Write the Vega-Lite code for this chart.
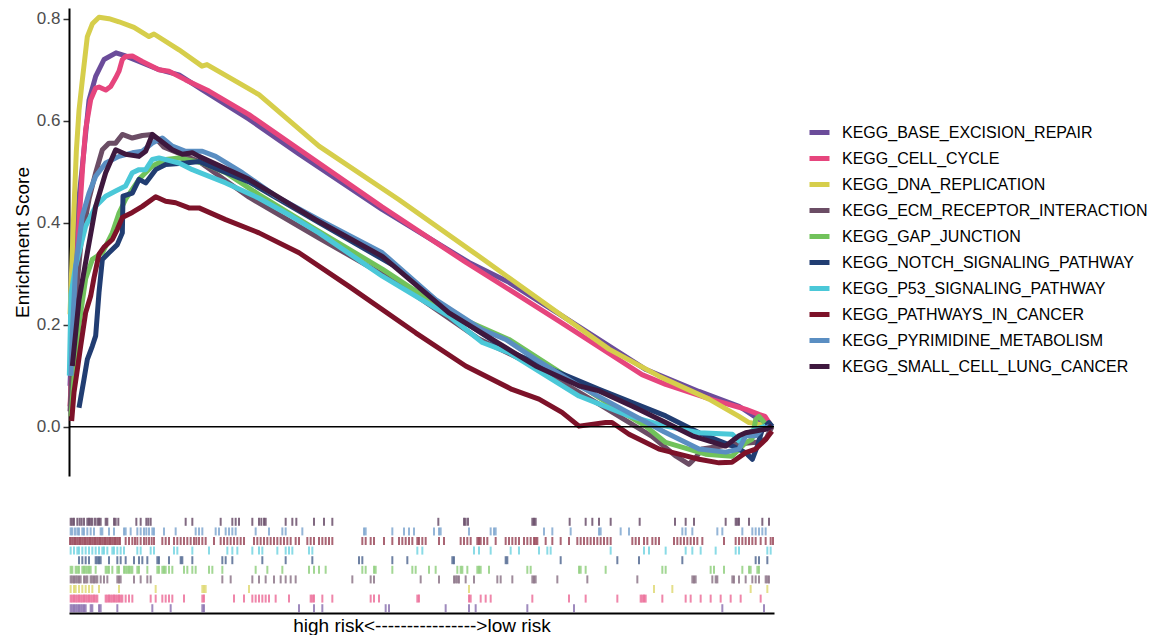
{
"$schema":"https://vega.github.io/schema/vega-lite/v6.json",
"background":"white",
"padding":{"left":13,"top":8,"right":0,"bottom":0},
"config":{"font":"Liberation Sans","view":{"stroke":null},"concat":{"spacing":41}},
"datasets":{
"curves":[
{"set":"KEGG_BASE_EXCISION_REPAIR","rank":3,"es":0.08},{"set":"KEGG_BASE_EXCISION_REPAIR","rank":15,"es":0.30},{"set":"KEGG_BASE_EXCISION_REPAIR","rank":30,"es":0.45},{"set":"KEGG_BASE_EXCISION_REPAIR","rank":40,"es":0.51},{"set":"KEGG_BASE_EXCISION_REPAIR","rank":60,"es":0.64},{"set":"KEGG_BASE_EXCISION_REPAIR","rank":80,"es":0.687},{"set":"KEGG_BASE_EXCISION_REPAIR","rank":105,"es":0.72},{"set":"KEGG_BASE_EXCISION_REPAIR","rank":141,"es":0.733},{"set":"KEGG_BASE_EXCISION_REPAIR","rank":165,"es":0.728},{"set":"KEGG_BASE_EXCISION_REPAIR","rank":210,"es":0.716},{"set":"KEGG_BASE_EXCISION_REPAIR","rank":270,"es":0.70},{"set":"KEGG_BASE_EXCISION_REPAIR","rank":330,"es":0.69},{"set":"KEGG_BASE_EXCISION_REPAIR","rank":399,"es":0.661},{"set":"KEGG_BASE_EXCISION_REPAIR","rank":540,"es":0.603},{"set":"KEGG_BASE_EXCISION_REPAIR","rank":690,"es":0.535},{"set":"KEGG_BASE_EXCISION_REPAIR","rank":939,"es":0.426},{"set":"KEGG_BASE_EXCISION_REPAIR","rank":1200,"es":0.322},{"set":"KEGG_BASE_EXCISION_REPAIR","rank":1320,"es":0.283},{"set":"KEGG_BASE_EXCISION_REPAIR","rank":1470,"es":0.221},{"set":"KEGG_BASE_EXCISION_REPAIR","rank":1731,"es":0.112},{"set":"KEGG_BASE_EXCISION_REPAIR","rank":1890,"es":0.069},{"set":"KEGG_BASE_EXCISION_REPAIR","rank":2010,"es":0.04},{"set":"KEGG_BASE_EXCISION_REPAIR","rank":2070,"es":0.014},{"set":"KEGG_BASE_EXCISION_REPAIR","rank":2094,"es":0.0},
{"set":"KEGG_CELL_CYCLE","rank":3,"es":0.04},{"set":"KEGG_CELL_CYCLE","rank":18,"es":0.25},{"set":"KEGG_CELL_CYCLE","rank":30,"es":0.40},{"set":"KEGG_CELL_CYCLE","rank":42,"es":0.52},{"set":"KEGG_CELL_CYCLE","rank":50,"es":0.583},{"set":"KEGG_CELL_CYCLE","rank":65,"es":0.641},{"set":"KEGG_CELL_CYCLE","rank":80,"es":0.664},{"set":"KEGG_CELL_CYCLE","rank":90,"es":0.666},{"set":"KEGG_CELL_CYCLE","rank":110,"es":0.66},{"set":"KEGG_CELL_CYCLE","rank":125,"es":0.667},{"set":"KEGG_CELL_CYCLE","rank":140,"es":0.684},{"set":"KEGG_CELL_CYCLE","rank":150,"es":0.697},{"set":"KEGG_CELL_CYCLE","rank":160,"es":0.72},{"set":"KEGG_CELL_CYCLE","rank":170,"es":0.726},{"set":"KEGG_CELL_CYCLE","rank":190,"es":0.727},{"set":"KEGG_CELL_CYCLE","rank":220,"es":0.716},{"set":"KEGG_CELL_CYCLE","rank":270,"es":0.70},{"set":"KEGG_CELL_CYCLE","rank":300,"es":0.697},{"set":"KEGG_CELL_CYCLE","rank":350,"es":0.68},{"set":"KEGG_CELL_CYCLE","rank":420,"es":0.658},{"set":"KEGG_CELL_CYCLE","rank":540,"es":0.612},{"set":"KEGG_CELL_CYCLE","rank":690,"es":0.544},{"set":"KEGG_CELL_CYCLE","rank":939,"es":0.431},{"set":"KEGG_CELL_CYCLE","rank":1191,"es":0.322},{"set":"KEGG_CELL_CYCLE","rank":1320,"es":0.269},{"set":"KEGG_CELL_CYCLE","rank":1470,"es":0.207},{"set":"KEGG_CELL_CYCLE","rank":1719,"es":0.102},{"set":"KEGG_CELL_CYCLE","rank":1790,"es":0.083},{"set":"KEGG_CELL_CYCLE","rank":1929,"es":0.053},{"set":"KEGG_CELL_CYCLE","rank":2010,"es":0.038},{"set":"KEGG_CELL_CYCLE","rank":2031,"es":0.034},{"set":"KEGG_CELL_CYCLE","rank":2070,"es":0.024},{"set":"KEGG_CELL_CYCLE","rank":2088,"es":0.02},{"set":"KEGG_CELL_CYCLE","rank":2103,"es":0.005},
{"set":"KEGG_DNA_REPLICATION","rank":3,"es":0.22},{"set":"KEGG_DNA_REPLICATION","rank":12,"es":0.38},{"set":"KEGG_DNA_REPLICATION","rank":22,"es":0.54},{"set":"KEGG_DNA_REPLICATION","rank":30,"es":0.62},{"set":"KEGG_DNA_REPLICATION","rank":40,"es":0.68},{"set":"KEGG_DNA_REPLICATION","rank":55,"es":0.765},{"set":"KEGG_DNA_REPLICATION","rank":70,"es":0.79},{"set":"KEGG_DNA_REPLICATION","rank":90,"es":0.803},{"set":"KEGG_DNA_REPLICATION","rank":120,"es":0.80},{"set":"KEGG_DNA_REPLICATION","rank":150,"es":0.794},{"set":"KEGG_DNA_REPLICATION","rank":195,"es":0.783},{"set":"KEGG_DNA_REPLICATION","rank":240,"es":0.765},{"set":"KEGG_DNA_REPLICATION","rank":255,"es":0.77},{"set":"KEGG_DNA_REPLICATION","rank":330,"es":0.739},{"set":"KEGG_DNA_REPLICATION","rank":399,"es":0.707},{"set":"KEGG_DNA_REPLICATION","rank":414,"es":0.71},{"set":"KEGG_DNA_REPLICATION","rank":570,"es":0.651},{"set":"KEGG_DNA_REPLICATION","rank":750,"es":0.55},{"set":"KEGG_DNA_REPLICATION","rank":990,"es":0.445},{"set":"KEGG_DNA_REPLICATION","rank":1230,"es":0.334},{"set":"KEGG_DNA_REPLICATION","rank":1470,"es":0.222},{"set":"KEGG_DNA_REPLICATION","rank":1620,"es":0.152},{"set":"KEGG_DNA_REPLICATION","rank":1770,"es":0.099},{"set":"KEGG_DNA_REPLICATION","rank":1920,"es":0.054},{"set":"KEGG_DNA_REPLICATION","rank":2010,"es":0.02},{"set":"KEGG_DNA_REPLICATION","rank":2040,"es":0.008},{"set":"KEGG_DNA_REPLICATION","rank":2076,"es":0.004},{"set":"KEGG_DNA_REPLICATION","rank":2094,"es":0.0},
{"set":"KEGG_ECM_RECEPTOR_INTERACTION","rank":3,"es":0.03},{"set":"KEGG_ECM_RECEPTOR_INTERACTION","rank":20,"es":0.25},{"set":"KEGG_ECM_RECEPTOR_INTERACTION","rank":36,"es":0.36},{"set":"KEGG_ECM_RECEPTOR_INTERACTION","rank":60,"es":0.446},{"set":"KEGG_ECM_RECEPTOR_INTERACTION","rank":80,"es":0.498},{"set":"KEGG_ECM_RECEPTOR_INTERACTION","rank":100,"es":0.543},{"set":"KEGG_ECM_RECEPTOR_INTERACTION","rank":120,"es":0.556},{"set":"KEGG_ECM_RECEPTOR_INTERACTION","rank":140,"es":0.556},{"set":"KEGG_ECM_RECEPTOR_INTERACTION","rank":160,"es":0.573},{"set":"KEGG_ECM_RECEPTOR_INTERACTION","rank":190,"es":0.566},{"set":"KEGG_ECM_RECEPTOR_INTERACTION","rank":220,"es":0.571},{"set":"KEGG_ECM_RECEPTOR_INTERACTION","rank":250,"es":0.573},{"set":"KEGG_ECM_RECEPTOR_INTERACTION","rank":285,"es":0.548},{"set":"KEGG_ECM_RECEPTOR_INTERACTION","rank":390,"es":0.52},{"set":"KEGG_ECM_RECEPTOR_INTERACTION","rank":540,"es":0.45},{"set":"KEGG_ECM_RECEPTOR_INTERACTION","rank":750,"es":0.37},{"set":"KEGG_ECM_RECEPTOR_INTERACTION","rank":990,"es":0.28},{"set":"KEGG_ECM_RECEPTOR_INTERACTION","rank":1230,"es":0.172},{"set":"KEGG_ECM_RECEPTOR_INTERACTION","rank":1400,"es":0.118},{"set":"KEGG_ECM_RECEPTOR_INTERACTION","rank":1590,"es":0.044},{"set":"KEGG_ECM_RECEPTOR_INTERACTION","rank":1749,"es":-0.019},{"set":"KEGG_ECM_RECEPTOR_INTERACTION","rank":1821,"es":-0.058},{"set":"KEGG_ECM_RECEPTOR_INTERACTION","rank":1860,"es":-0.074},{"set":"KEGG_ECM_RECEPTOR_INTERACTION","rank":1881,"es":-0.06},{"set":"KEGG_ECM_RECEPTOR_INTERACTION","rank":1899,"es":-0.044},{"set":"KEGG_ECM_RECEPTOR_INTERACTION","rank":1989,"es":-0.035},{"set":"KEGG_ECM_RECEPTOR_INTERACTION","rank":2070,"es":-0.03},{"set":"KEGG_ECM_RECEPTOR_INTERACTION","rank":2091,"es":-0.024},{"set":"KEGG_ECM_RECEPTOR_INTERACTION","rank":2109,"es":0.0},
{"set":"KEGG_GAP_JUNCTION","rank":6,"es":0.02},{"set":"KEGG_GAP_JUNCTION","rank":18,"es":0.12},{"set":"KEGG_GAP_JUNCTION","rank":30,"es":0.2},{"set":"KEGG_GAP_JUNCTION","rank":50,"es":0.29},{"set":"KEGG_GAP_JUNCTION","rank":70,"es":0.328},{"set":"KEGG_GAP_JUNCTION","rank":100,"es":0.341},{"set":"KEGG_GAP_JUNCTION","rank":130,"es":0.38},{"set":"KEGG_GAP_JUNCTION","rank":150,"es":0.419},{"set":"KEGG_GAP_JUNCTION","rank":170,"es":0.446},{"set":"KEGG_GAP_JUNCTION","rank":210,"es":0.485},{"set":"KEGG_GAP_JUNCTION","rank":250,"es":0.511},{"set":"KEGG_GAP_JUNCTION","rank":290,"es":0.524},{"set":"KEGG_GAP_JUNCTION","rank":330,"es":0.527},{"set":"KEGG_GAP_JUNCTION","rank":400,"es":0.517},{"set":"KEGG_GAP_JUNCTION","rank":470,"es":0.498},{"set":"KEGG_GAP_JUNCTION","rank":570,"es":0.455},{"set":"KEGG_GAP_JUNCTION","rank":670,"es":0.415},{"set":"KEGG_GAP_JUNCTION","rank":740,"es":0.387},{"set":"KEGG_GAP_JUNCTION","rank":940,"es":0.309},{"set":"KEGG_GAP_JUNCTION","rank":1140,"es":0.223},{"set":"KEGG_GAP_JUNCTION","rank":1320,"es":0.171},{"set":"KEGG_GAP_JUNCTION","rank":1470,"es":0.108},{"set":"KEGG_GAP_JUNCTION","rank":1630,"es":0.04},{"set":"KEGG_GAP_JUNCTION","rank":1730,"es":0.001},{"set":"KEGG_GAP_JUNCTION","rank":1790,"es":-0.031},{"set":"KEGG_GAP_JUNCTION","rank":1910,"es":-0.054},{"set":"KEGG_GAP_JUNCTION","rank":1989,"es":-0.058},{"set":"KEGG_GAP_JUNCTION","rank":2031,"es":-0.031},{"set":"KEGG_GAP_JUNCTION","rank":2049,"es":-0.025},{"set":"KEGG_GAP_JUNCTION","rank":2060,"es":0.014},{"set":"KEGG_GAP_JUNCTION","rank":2070,"es":0.02},{"set":"KEGG_GAP_JUNCTION","rank":2091,"es":0.004},
{"set":"KEGG_NOTCH_SIGNALING_PATHWAY","rank":30,"es":0.037},{"set":"KEGG_NOTCH_SIGNALING_PATHWAY","rank":45,"es":0.093},{"set":"KEGG_NOTCH_SIGNALING_PATHWAY","rank":55,"es":0.132},{"set":"KEGG_NOTCH_SIGNALING_PATHWAY","rank":70,"es":0.158},{"set":"KEGG_NOTCH_SIGNALING_PATHWAY","rank":80,"es":0.178},{"set":"KEGG_NOTCH_SIGNALING_PATHWAY","rank":90,"es":0.263},{"set":"KEGG_NOTCH_SIGNALING_PATHWAY","rank":100,"es":0.328},{"set":"KEGG_NOTCH_SIGNALING_PATHWAY","rank":120,"es":0.341},{"set":"KEGG_NOTCH_SIGNALING_PATHWAY","rank":145,"es":0.357},{"set":"KEGG_NOTCH_SIGNALING_PATHWAY","rank":160,"es":0.38},{"set":"KEGG_NOTCH_SIGNALING_PATHWAY","rank":162,"es":0.452},{"set":"KEGG_NOTCH_SIGNALING_PATHWAY","rank":190,"es":0.458},{"set":"KEGG_NOTCH_SIGNALING_PATHWAY","rank":210,"es":0.485},{"set":"KEGG_NOTCH_SIGNALING_PATHWAY","rank":230,"es":0.478},{"set":"KEGG_NOTCH_SIGNALING_PATHWAY","rank":260,"es":0.504},{"set":"KEGG_NOTCH_SIGNALING_PATHWAY","rank":290,"es":0.514},{"set":"KEGG_NOTCH_SIGNALING_PATHWAY","rank":350,"es":0.517},{"set":"KEGG_NOTCH_SIGNALING_PATHWAY","rank":390,"es":0.52},{"set":"KEGG_NOTCH_SIGNALING_PATHWAY","rank":540,"es":0.48},{"set":"KEGG_NOTCH_SIGNALING_PATHWAY","rank":750,"es":0.40},{"set":"KEGG_NOTCH_SIGNALING_PATHWAY","rank":990,"es":0.31},{"set":"KEGG_NOTCH_SIGNALING_PATHWAY","rank":1140,"es":0.225},{"set":"KEGG_NOTCH_SIGNALING_PATHWAY","rank":1320,"es":0.148},{"set":"KEGG_NOTCH_SIGNALING_PATHWAY","rank":1400,"es":0.125},{"set":"KEGG_NOTCH_SIGNALING_PATHWAY","rank":1590,"es":0.073},{"set":"KEGG_NOTCH_SIGNALING_PATHWAY","rank":1690,"es":0.047},{"set":"KEGG_NOTCH_SIGNALING_PATHWAY","rank":1790,"es":0.021},{"set":"KEGG_NOTCH_SIGNALING_PATHWAY","rank":1890,"es":-0.012},{"set":"KEGG_NOTCH_SIGNALING_PATHWAY","rank":1990,"es":-0.038},{"set":"KEGG_NOTCH_SIGNALING_PATHWAY","rank":2030,"es":-0.051},{"set":"KEGG_NOTCH_SIGNALING_PATHWAY","rank":2050,"es":-0.064},{"set":"KEGG_NOTCH_SIGNALING_PATHWAY","rank":2065,"es":-0.038},{"set":"KEGG_NOTCH_SIGNALING_PATHWAY","rank":2080,"es":-0.005},{"set":"KEGG_NOTCH_SIGNALING_PATHWAY","rank":2100,"es":0.008},{"set":"KEGG_NOTCH_SIGNALING_PATHWAY","rank":2110,"es":0.0},
{"set":"KEGG_P53_SIGNALING_PATHWAY","rank":1,"es":0.1},{"set":"KEGG_P53_SIGNALING_PATHWAY","rank":6,"es":0.26},{"set":"KEGG_P53_SIGNALING_PATHWAY","rank":20,"es":0.315},{"set":"KEGG_P53_SIGNALING_PATHWAY","rank":50,"es":0.393},{"set":"KEGG_P53_SIGNALING_PATHWAY","rank":80,"es":0.432},{"set":"KEGG_P53_SIGNALING_PATHWAY","rank":110,"es":0.452},{"set":"KEGG_P53_SIGNALING_PATHWAY","rank":140,"es":0.462},{"set":"KEGG_P53_SIGNALING_PATHWAY","rank":170,"es":0.472},{"set":"KEGG_P53_SIGNALING_PATHWAY","rank":190,"es":0.498},{"set":"KEGG_P53_SIGNALING_PATHWAY","rank":210,"es":0.504},{"set":"KEGG_P53_SIGNALING_PATHWAY","rank":230,"es":0.504},{"set":"KEGG_P53_SIGNALING_PATHWAY","rank":250,"es":0.524},{"set":"KEGG_P53_SIGNALING_PATHWAY","rank":270,"es":0.527},{"set":"KEGG_P53_SIGNALING_PATHWAY","rank":330,"es":0.517},{"set":"KEGG_P53_SIGNALING_PATHWAY","rank":370,"es":0.504},{"set":"KEGG_P53_SIGNALING_PATHWAY","rank":470,"es":0.478},{"set":"KEGG_P53_SIGNALING_PATHWAY","rank":570,"es":0.448},{"set":"KEGG_P53_SIGNALING_PATHWAY","rank":669,"es":0.412},{"set":"KEGG_P53_SIGNALING_PATHWAY","rank":750,"es":0.38},{"set":"KEGG_P53_SIGNALING_PATHWAY","rank":940,"es":0.295},{"set":"KEGG_P53_SIGNALING_PATHWAY","rank":1140,"es":0.217},{"set":"KEGG_P53_SIGNALING_PATHWAY","rank":1240,"es":0.165},{"set":"KEGG_P53_SIGNALING_PATHWAY","rank":1320,"es":0.145},{"set":"KEGG_P53_SIGNALING_PATHWAY","rank":1530,"es":0.06},{"set":"KEGG_P53_SIGNALING_PATHWAY","rank":1680,"es":0.021},{"set":"KEGG_P53_SIGNALING_PATHWAY","rank":1790,"es":0.001},{"set":"KEGG_P53_SIGNALING_PATHWAY","rank":1890,"es":-0.012},{"set":"KEGG_P53_SIGNALING_PATHWAY","rank":1990,"es":-0.015},{"set":"KEGG_P53_SIGNALING_PATHWAY","rank":2010,"es":-0.028},{"set":"KEGG_P53_SIGNALING_PATHWAY","rank":2030,"es":-0.015},{"set":"KEGG_P53_SIGNALING_PATHWAY","rank":2060,"es":-0.005},{"set":"KEGG_P53_SIGNALING_PATHWAY","rank":2090,"es":0.001},
{"set":"KEGG_PATHWAYS_IN_CANCER","rank":8,"es":0.011},{"set":"KEGG_PATHWAYS_IN_CANCER","rank":15,"es":0.067},{"set":"KEGG_PATHWAYS_IN_CANCER","rank":25,"es":0.112},{"set":"KEGG_PATHWAYS_IN_CANCER","rank":35,"es":0.158},{"set":"KEGG_PATHWAYS_IN_CANCER","rank":50,"es":0.224},{"set":"KEGG_PATHWAYS_IN_CANCER","rank":65,"es":0.256},{"set":"KEGG_PATHWAYS_IN_CANCER","rank":75,"es":0.292},{"set":"KEGG_PATHWAYS_IN_CANCER","rank":90,"es":0.338},{"set":"KEGG_PATHWAYS_IN_CANCER","rank":105,"es":0.352},{"set":"KEGG_PATHWAYS_IN_CANCER","rank":130,"es":0.367},{"set":"KEGG_PATHWAYS_IN_CANCER","rank":145,"es":0.387},{"set":"KEGG_PATHWAYS_IN_CANCER","rank":160,"es":0.41},{"set":"KEGG_PATHWAYS_IN_CANCER","rank":190,"es":0.42},{"set":"KEGG_PATHWAYS_IN_CANCER","rank":220,"es":0.432},{"set":"KEGG_PATHWAYS_IN_CANCER","rank":260,"es":0.451},{"set":"KEGG_PATHWAYS_IN_CANCER","rank":290,"es":0.442},{"set":"KEGG_PATHWAYS_IN_CANCER","rank":320,"es":0.439},{"set":"KEGG_PATHWAYS_IN_CANCER","rank":360,"es":0.429},{"set":"KEGG_PATHWAYS_IN_CANCER","rank":390,"es":0.429},{"set":"KEGG_PATHWAYS_IN_CANCER","rank":470,"es":0.406},{"set":"KEGG_PATHWAYS_IN_CANCER","rank":570,"es":0.38},{"set":"KEGG_PATHWAYS_IN_CANCER","rank":690,"es":0.341},{"set":"KEGG_PATHWAYS_IN_CANCER","rank":840,"es":0.275},{"set":"KEGG_PATHWAYS_IN_CANCER","rank":1040,"es":0.184},{"set":"KEGG_PATHWAYS_IN_CANCER","rank":1190,"es":0.119},{"set":"KEGG_PATHWAYS_IN_CANCER","rank":1329,"es":0.073},{"set":"KEGG_PATHWAYS_IN_CANCER","rank":1410,"es":0.054},{"set":"KEGG_PATHWAYS_IN_CANCER","rank":1479,"es":0.028},{"set":"KEGG_PATHWAYS_IN_CANCER","rank":1530,"es":0.001},{"set":"KEGG_PATHWAYS_IN_CANCER","rank":1610,"es":0.008},{"set":"KEGG_PATHWAYS_IN_CANCER","rank":1629,"es":0.008},{"set":"KEGG_PATHWAYS_IN_CANCER","rank":1680,"es":-0.015},{"set":"KEGG_PATHWAYS_IN_CANCER","rank":1770,"es":-0.044},{"set":"KEGG_PATHWAYS_IN_CANCER","rank":1830,"es":-0.054},{"set":"KEGG_PATHWAYS_IN_CANCER","rank":1890,"es":-0.064},{"set":"KEGG_PATHWAYS_IN_CANCER","rank":1950,"es":-0.071},{"set":"KEGG_PATHWAYS_IN_CANCER","rank":1989,"es":-0.07},{"set":"KEGG_PATHWAYS_IN_CANCER","rank":2030,"es":-0.051},{"set":"KEGG_PATHWAYS_IN_CANCER","rank":2060,"es":-0.044},{"set":"KEGG_PATHWAYS_IN_CANCER","rank":2090,"es":-0.025},{"set":"KEGG_PATHWAYS_IN_CANCER","rank":2109,"es":-0.009},
{"set":"KEGG_PYRIMIDINE_METABOLISM","rank":6,"es":0.1},{"set":"KEGG_PYRIMIDINE_METABOLISM","rank":10,"es":0.184},{"set":"KEGG_PYRIMIDINE_METABOLISM","rank":20,"es":0.315},{"set":"KEGG_PYRIMIDINE_METABOLISM","rank":40,"es":0.413},{"set":"KEGG_PYRIMIDINE_METABOLISM","rank":60,"es":0.458},{"set":"KEGG_PYRIMIDINE_METABOLISM","rank":80,"es":0.491},{"set":"KEGG_PYRIMIDINE_METABOLISM","rank":110,"es":0.517},{"set":"KEGG_PYRIMIDINE_METABOLISM","rank":150,"es":0.53},{"set":"KEGG_PYRIMIDINE_METABOLISM","rank":190,"es":0.537},{"set":"KEGG_PYRIMIDINE_METABOLISM","rank":220,"es":0.54},{"set":"KEGG_PYRIMIDINE_METABOLISM","rank":250,"es":0.556},{"set":"KEGG_PYRIMIDINE_METABOLISM","rank":280,"es":0.566},{"set":"KEGG_PYRIMIDINE_METABOLISM","rank":310,"es":0.55},{"set":"KEGG_PYRIMIDINE_METABOLISM","rank":350,"es":0.54},{"set":"KEGG_PYRIMIDINE_METABOLISM","rank":400,"es":0.54},{"set":"KEGG_PYRIMIDINE_METABOLISM","rank":440,"es":0.53},{"set":"KEGG_PYRIMIDINE_METABOLISM","rank":520,"es":0.498},{"set":"KEGG_PYRIMIDINE_METABOLISM","rank":620,"es":0.452},{"set":"KEGG_PYRIMIDINE_METABOLISM","rank":750,"es":0.406},{"set":"KEGG_PYRIMIDINE_METABOLISM","rank":940,"es":0.341},{"set":"KEGG_PYRIMIDINE_METABOLISM","rank":1100,"es":0.249},{"set":"KEGG_PYRIMIDINE_METABOLISM","rank":1240,"es":0.19},{"set":"KEGG_PYRIMIDINE_METABOLISM","rank":1310,"es":0.171},{"set":"KEGG_PYRIMIDINE_METABOLISM","rank":1400,"es":0.132},{"set":"KEGG_PYRIMIDINE_METABOLISM","rank":1530,"es":0.08},{"set":"KEGG_PYRIMIDINE_METABOLISM","rank":1680,"es":0.027},{"set":"KEGG_PYRIMIDINE_METABOLISM","rank":1785,"es":-0.01},{"set":"KEGG_PYRIMIDINE_METABOLISM","rank":1890,"es":-0.044},{"set":"KEGG_PYRIMIDINE_METABOLISM","rank":1970,"es":-0.05},{"set":"KEGG_PYRIMIDINE_METABOLISM","rank":2010,"es":-0.044},{"set":"KEGG_PYRIMIDINE_METABOLISM","rank":2030,"es":-0.018},{"set":"KEGG_PYRIMIDINE_METABOLISM","rank":2060,"es":-0.018},{"set":"KEGG_PYRIMIDINE_METABOLISM","rank":2079,"es":-0.005},{"set":"KEGG_PYRIMIDINE_METABOLISM","rank":2100,"es":0.0},
{"set":"KEGG_SMALL_CELL_LUNG_CANCER","rank":10,"es":0.119},{"set":"KEGG_SMALL_CELL_LUNG_CANCER","rank":30,"es":0.249},{"set":"KEGG_SMALL_CELL_LUNG_CANCER","rank":55,"es":0.341},{"set":"KEGG_SMALL_CELL_LUNG_CANCER","rank":80,"es":0.432},{"set":"KEGG_SMALL_CELL_LUNG_CANCER","rank":110,"es":0.498},{"set":"KEGG_SMALL_CELL_LUNG_CANCER","rank":140,"es":0.543},{"set":"KEGG_SMALL_CELL_LUNG_CANCER","rank":170,"es":0.534},{"set":"KEGG_SMALL_CELL_LUNG_CANCER","rank":210,"es":0.53},{"set":"KEGG_SMALL_CELL_LUNG_CANCER","rank":230,"es":0.54},{"set":"KEGG_SMALL_CELL_LUNG_CANCER","rank":250,"es":0.573},{"set":"KEGG_SMALL_CELL_LUNG_CANCER","rank":270,"es":0.563},{"set":"KEGG_SMALL_CELL_LUNG_CANCER","rank":310,"es":0.543},{"set":"KEGG_SMALL_CELL_LUNG_CANCER","rank":340,"es":0.534},{"set":"KEGG_SMALL_CELL_LUNG_CANCER","rank":370,"es":0.537},{"set":"KEGG_SMALL_CELL_LUNG_CANCER","rank":390,"es":0.53},{"set":"KEGG_SMALL_CELL_LUNG_CANCER","rank":540,"es":0.485},{"set":"KEGG_SMALL_CELL_LUNG_CANCER","rank":740,"es":0.406},{"set":"KEGG_SMALL_CELL_LUNG_CANCER","rank":940,"es":0.334},{"set":"KEGG_SMALL_CELL_LUNG_CANCER","rank":1140,"es":0.223},{"set":"KEGG_SMALL_CELL_LUNG_CANCER","rank":1320,"es":0.151},{"set":"KEGG_SMALL_CELL_LUNG_CANCER","rank":1400,"es":0.119},{"set":"KEGG_SMALL_CELL_LUNG_CANCER","rank":1530,"es":0.08},{"set":"KEGG_SMALL_CELL_LUNG_CANCER","rank":1590,"es":0.07},{"set":"KEGG_SMALL_CELL_LUNG_CANCER","rank":1690,"es":0.04},{"set":"KEGG_SMALL_CELL_LUNG_CANCER","rank":1790,"es":0.008},{"set":"KEGG_SMALL_CELL_LUNG_CANCER","rank":1870,"es":-0.018},{"set":"KEGG_SMALL_CELL_LUNG_CANCER","rank":1970,"es":-0.038},{"set":"KEGG_SMALL_CELL_LUNG_CANCER","rank":2010,"es":-0.018},{"set":"KEGG_SMALL_CELL_LUNG_CANCER","rank":2030,"es":-0.012},{"set":"KEGG_SMALL_CELL_LUNG_CANCER","rank":2090,"es":-0.005},{"set":"KEGG_SMALL_CELL_LUNG_CANCER","rank":2109,"es":0.001}
],
"hits":[
{"set":"KEGG_SMALL_CELL_LUNG_CANCER","rank":5},{"set":"KEGG_SMALL_CELL_LUNG_CANCER","rank":10},{"set":"KEGG_SMALL_CELL_LUNG_CANCER","rank":15},{"set":"KEGG_SMALL_CELL_LUNG_CANCER","rank":25},{"set":"KEGG_SMALL_CELL_LUNG_CANCER","rank":32},{"set":"KEGG_SMALL_CELL_LUNG_CANCER","rank":38},{"set":"KEGG_SMALL_CELL_LUNG_CANCER","rank":45},{"set":"KEGG_SMALL_CELL_LUNG_CANCER","rank":55},{"set":"KEGG_SMALL_CELL_LUNG_CANCER","rank":60},{"set":"KEGG_SMALL_CELL_LUNG_CANCER","rank":65},{"set":"KEGG_SMALL_CELL_LUNG_CANCER","rank":70},{"set":"KEGG_SMALL_CELL_LUNG_CANCER","rank":78},{"set":"KEGG_SMALL_CELL_LUNG_CANCER","rank":85},{"set":"KEGG_SMALL_CELL_LUNG_CANCER","rank":90},{"set":"KEGG_SMALL_CELL_LUNG_CANCER","rank":95},{"set":"KEGG_SMALL_CELL_LUNG_CANCER","rank":110},{"set":"KEGG_SMALL_CELL_LUNG_CANCER","rank":115},{"set":"KEGG_SMALL_CELL_LUNG_CANCER","rank":135},{"set":"KEGG_SMALL_CELL_LUNG_CANCER","rank":140},{"set":"KEGG_SMALL_CELL_LUNG_CANCER","rank":148},{"set":"KEGG_SMALL_CELL_LUNG_CANCER","rank":202},{"set":"KEGG_SMALL_CELL_LUNG_CANCER","rank":215},{"set":"KEGG_SMALL_CELL_LUNG_CANCER","rank":232},{"set":"KEGG_SMALL_CELL_LUNG_CANCER","rank":238},{"set":"KEGG_SMALL_CELL_LUNG_CANCER","rank":245},{"set":"KEGG_SMALL_CELL_LUNG_CANCER","rank":350},{"set":"KEGG_SMALL_CELL_LUNG_CANCER","rank":370},{"set":"KEGG_SMALL_CELL_LUNG_CANCER","rank":455},{"set":"KEGG_SMALL_CELL_LUNG_CANCER","rank":490},{"set":"KEGG_SMALL_CELL_LUNG_CANCER","rank":500},{"set":"KEGG_SMALL_CELL_LUNG_CANCER","rank":510},{"set":"KEGG_SMALL_CELL_LUNG_CANCER","rank":550},{"set":"KEGG_SMALL_CELL_LUNG_CANCER","rank":570},{"set":"KEGG_SMALL_CELL_LUNG_CANCER","rank":577},{"set":"KEGG_SMALL_CELL_LUNG_CANCER","rank":585},{"set":"KEGG_SMALL_CELL_LUNG_CANCER","rank":590},{"set":"KEGG_SMALL_CELL_LUNG_CANCER","rank":650},{"set":"KEGG_SMALL_CELL_LUNG_CANCER","rank":670},{"set":"KEGG_SMALL_CELL_LUNG_CANCER","rank":682},{"set":"KEGG_SMALL_CELL_LUNG_CANCER","rank":735},{"set":"KEGG_SMALL_CELL_LUNG_CANCER","rank":765},{"set":"KEGG_SMALL_CELL_LUNG_CANCER","rank":790},{"set":"KEGG_SMALL_CELL_LUNG_CANCER","rank":1108},{"set":"KEGG_SMALL_CELL_LUNG_CANCER","rank":1185},{"set":"KEGG_SMALL_CELL_LUNG_CANCER","rank":1190},{"set":"KEGG_SMALL_CELL_LUNG_CANCER","rank":1197},{"set":"KEGG_SMALL_CELL_LUNG_CANCER","rank":1390},{"set":"KEGG_SMALL_CELL_LUNG_CANCER","rank":1395},{"set":"KEGG_SMALL_CELL_LUNG_CANCER","rank":1400},{"set":"KEGG_SMALL_CELL_LUNG_CANCER","rank":1502},{"set":"KEGG_SMALL_CELL_LUNG_CANCER","rank":1550},{"set":"KEGG_SMALL_CELL_LUNG_CANCER","rank":1570},{"set":"KEGG_SMALL_CELL_LUNG_CANCER","rank":1590},{"set":"KEGG_SMALL_CELL_LUNG_CANCER","rank":1625},{"set":"KEGG_SMALL_CELL_LUNG_CANCER","rank":1712},{"set":"KEGG_SMALL_CELL_LUNG_CANCER","rank":1818},{"set":"KEGG_SMALL_CELL_LUNG_CANCER","rank":1850},{"set":"KEGG_SMALL_CELL_LUNG_CANCER","rank":1875},{"set":"KEGG_SMALL_CELL_LUNG_CANCER","rank":1970},{"set":"KEGG_SMALL_CELL_LUNG_CANCER","rank":2000},{"set":"KEGG_SMALL_CELL_LUNG_CANCER","rank":2005},{"set":"KEGG_SMALL_CELL_LUNG_CANCER","rank":2010},{"set":"KEGG_SMALL_CELL_LUNG_CANCER","rank":2040},{"set":"KEGG_SMALL_CELL_LUNG_CANCER","rank":2080},{"set":"KEGG_SMALL_CELL_LUNG_CANCER","rank":2100},
{"set":"KEGG_PYRIMIDINE_METABOLISM","rank":5},{"set":"KEGG_PYRIMIDINE_METABOLISM","rank":10},{"set":"KEGG_PYRIMIDINE_METABOLISM","rank":18},{"set":"KEGG_PYRIMIDINE_METABOLISM","rank":25},{"set":"KEGG_PYRIMIDINE_METABOLISM","rank":30},{"set":"KEGG_PYRIMIDINE_METABOLISM","rank":40},{"set":"KEGG_PYRIMIDINE_METABOLISM","rank":45},{"set":"KEGG_PYRIMIDINE_METABOLISM","rank":55},{"set":"KEGG_PYRIMIDINE_METABOLISM","rank":65},{"set":"KEGG_PYRIMIDINE_METABOLISM","rank":75},{"set":"KEGG_PYRIMIDINE_METABOLISM","rank":95},{"set":"KEGG_PYRIMIDINE_METABOLISM","rank":100},{"set":"KEGG_PYRIMIDINE_METABOLISM","rank":120},{"set":"KEGG_PYRIMIDINE_METABOLISM","rank":135},{"set":"KEGG_PYRIMIDINE_METABOLISM","rank":165},{"set":"KEGG_PYRIMIDINE_METABOLISM","rank":170},{"set":"KEGG_PYRIMIDINE_METABOLISM","rank":185},{"set":"KEGG_PYRIMIDINE_METABOLISM","rank":205},{"set":"KEGG_PYRIMIDINE_METABOLISM","rank":215},{"set":"KEGG_PYRIMIDINE_METABOLISM","rank":225},{"set":"KEGG_PYRIMIDINE_METABOLISM","rank":232},{"set":"KEGG_PYRIMIDINE_METABOLISM","rank":240},{"set":"KEGG_PYRIMIDINE_METABOLISM","rank":250},{"set":"KEGG_PYRIMIDINE_METABOLISM","rank":255},{"set":"KEGG_PYRIMIDINE_METABOLISM","rank":285},{"set":"KEGG_PYRIMIDINE_METABOLISM","rank":320},{"set":"KEGG_PYRIMIDINE_METABOLISM","rank":380},{"set":"KEGG_PYRIMIDINE_METABOLISM","rank":390},{"set":"KEGG_PYRIMIDINE_METABOLISM","rank":400},{"set":"KEGG_PYRIMIDINE_METABOLISM","rank":440},{"set":"KEGG_PYRIMIDINE_METABOLISM","rank":450},{"set":"KEGG_PYRIMIDINE_METABOLISM","rank":470},{"set":"KEGG_PYRIMIDINE_METABOLISM","rank":480},{"set":"KEGG_PYRIMIDINE_METABOLISM","rank":490},{"set":"KEGG_PYRIMIDINE_METABOLISM","rank":500},{"set":"KEGG_PYRIMIDINE_METABOLISM","rank":560},{"set":"KEGG_PYRIMIDINE_METABOLISM","rank":600},{"set":"KEGG_PYRIMIDINE_METABOLISM","rank":640},{"set":"KEGG_PYRIMIDINE_METABOLISM","rank":650},{"set":"KEGG_PYRIMIDINE_METABOLISM","rank":700},{"set":"KEGG_PYRIMIDINE_METABOLISM","rank":885},{"set":"KEGG_PYRIMIDINE_METABOLISM","rank":890},{"set":"KEGG_PYRIMIDINE_METABOLISM","rank":970},{"set":"KEGG_PYRIMIDINE_METABOLISM","rank":1005},{"set":"KEGG_PYRIMIDINE_METABOLISM","rank":1020},{"set":"KEGG_PYRIMIDINE_METABOLISM","rank":1035},{"set":"KEGG_PYRIMIDINE_METABOLISM","rank":1095},{"set":"KEGG_PYRIMIDINE_METABOLISM","rank":1110},{"set":"KEGG_PYRIMIDINE_METABOLISM","rank":1115},{"set":"KEGG_PYRIMIDINE_METABOLISM","rank":1200},{"set":"KEGG_PYRIMIDINE_METABOLISM","rank":1265},{"set":"KEGG_PYRIMIDINE_METABOLISM","rank":1275},{"set":"KEGG_PYRIMIDINE_METABOLISM","rank":1280},{"set":"KEGG_PYRIMIDINE_METABOLISM","rank":1425},{"set":"KEGG_PYRIMIDINE_METABOLISM","rank":1450},{"set":"KEGG_PYRIMIDINE_METABOLISM","rank":1505},{"set":"KEGG_PYRIMIDINE_METABOLISM","rank":1590},{"set":"KEGG_PYRIMIDINE_METABOLISM","rank":1595},{"set":"KEGG_PYRIMIDINE_METABOLISM","rank":1655},{"set":"KEGG_PYRIMIDINE_METABOLISM","rank":1680},{"set":"KEGG_PYRIMIDINE_METABOLISM","rank":1840},{"set":"KEGG_PYRIMIDINE_METABOLISM","rank":1850},{"set":"KEGG_PYRIMIDINE_METABOLISM","rank":1870},{"set":"KEGG_PYRIMIDINE_METABOLISM","rank":1945},{"set":"KEGG_PYRIMIDINE_METABOLISM","rank":1960},{"set":"KEGG_PYRIMIDINE_METABOLISM","rank":2020},{"set":"KEGG_PYRIMIDINE_METABOLISM","rank":2050},{"set":"KEGG_PYRIMIDINE_METABOLISM","rank":2060},{"set":"KEGG_PYRIMIDINE_METABOLISM","rank":2070},{"set":"KEGG_PYRIMIDINE_METABOLISM","rank":2080},{"set":"KEGG_PYRIMIDINE_METABOLISM","rank":2090},
{"set":"KEGG_PATHWAYS_IN_CANCER","rank":3},{"set":"KEGG_PATHWAYS_IN_CANCER","rank":8},{"set":"KEGG_PATHWAYS_IN_CANCER","rank":13},{"set":"KEGG_PATHWAYS_IN_CANCER","rank":18},{"set":"KEGG_PATHWAYS_IN_CANCER","rank":23},{"set":"KEGG_PATHWAYS_IN_CANCER","rank":28},{"set":"KEGG_PATHWAYS_IN_CANCER","rank":33},{"set":"KEGG_PATHWAYS_IN_CANCER","rank":38},{"set":"KEGG_PATHWAYS_IN_CANCER","rank":43},{"set":"KEGG_PATHWAYS_IN_CANCER","rank":48},{"set":"KEGG_PATHWAYS_IN_CANCER","rank":53},{"set":"KEGG_PATHWAYS_IN_CANCER","rank":58},{"set":"KEGG_PATHWAYS_IN_CANCER","rank":63},{"set":"KEGG_PATHWAYS_IN_CANCER","rank":68},{"set":"KEGG_PATHWAYS_IN_CANCER","rank":73},{"set":"KEGG_PATHWAYS_IN_CANCER","rank":78},{"set":"KEGG_PATHWAYS_IN_CANCER","rank":83},{"set":"KEGG_PATHWAYS_IN_CANCER","rank":88},{"set":"KEGG_PATHWAYS_IN_CANCER","rank":93},{"set":"KEGG_PATHWAYS_IN_CANCER","rank":98},{"set":"KEGG_PATHWAYS_IN_CANCER","rank":103},{"set":"KEGG_PATHWAYS_IN_CANCER","rank":108},{"set":"KEGG_PATHWAYS_IN_CANCER","rank":113},{"set":"KEGG_PATHWAYS_IN_CANCER","rank":118},{"set":"KEGG_PATHWAYS_IN_CANCER","rank":123},{"set":"KEGG_PATHWAYS_IN_CANCER","rank":128},{"set":"KEGG_PATHWAYS_IN_CANCER","rank":133},{"set":"KEGG_PATHWAYS_IN_CANCER","rank":138},{"set":"KEGG_PATHWAYS_IN_CANCER","rank":143},{"set":"KEGG_PATHWAYS_IN_CANCER","rank":148},{"set":"KEGG_PATHWAYS_IN_CANCER","rank":153},{"set":"KEGG_PATHWAYS_IN_CANCER","rank":170},{"set":"KEGG_PATHWAYS_IN_CANCER","rank":180},{"set":"KEGG_PATHWAYS_IN_CANCER","rank":190},{"set":"KEGG_PATHWAYS_IN_CANCER","rank":198},{"set":"KEGG_PATHWAYS_IN_CANCER","rank":205},{"set":"KEGG_PATHWAYS_IN_CANCER","rank":215},{"set":"KEGG_PATHWAYS_IN_CANCER","rank":225},{"set":"KEGG_PATHWAYS_IN_CANCER","rank":232},{"set":"KEGG_PATHWAYS_IN_CANCER","rank":240},{"set":"KEGG_PATHWAYS_IN_CANCER","rank":248},{"set":"KEGG_PATHWAYS_IN_CANCER","rank":255},{"set":"KEGG_PATHWAYS_IN_CANCER","rank":280},{"set":"KEGG_PATHWAYS_IN_CANCER","rank":290},{"set":"KEGG_PATHWAYS_IN_CANCER","rank":300},{"set":"KEGG_PATHWAYS_IN_CANCER","rank":315},{"set":"KEGG_PATHWAYS_IN_CANCER","rank":325},{"set":"KEGG_PATHWAYS_IN_CANCER","rank":335},{"set":"KEGG_PATHWAYS_IN_CANCER","rank":345},{"set":"KEGG_PATHWAYS_IN_CANCER","rank":355},{"set":"KEGG_PATHWAYS_IN_CANCER","rank":365},{"set":"KEGG_PATHWAYS_IN_CANCER","rank":375},{"set":"KEGG_PATHWAYS_IN_CANCER","rank":382},{"set":"KEGG_PATHWAYS_IN_CANCER","rank":390},{"set":"KEGG_PATHWAYS_IN_CANCER","rank":400},{"set":"KEGG_PATHWAYS_IN_CANCER","rank":410},{"set":"KEGG_PATHWAYS_IN_CANCER","rank":435},{"set":"KEGG_PATHWAYS_IN_CANCER","rank":455},{"set":"KEGG_PATHWAYS_IN_CANCER","rank":465},{"set":"KEGG_PATHWAYS_IN_CANCER","rank":475},{"set":"KEGG_PATHWAYS_IN_CANCER","rank":485},{"set":"KEGG_PATHWAYS_IN_CANCER","rank":495},{"set":"KEGG_PATHWAYS_IN_CANCER","rank":505},{"set":"KEGG_PATHWAYS_IN_CANCER","rank":515},{"set":"KEGG_PATHWAYS_IN_CANCER","rank":525},{"set":"KEGG_PATHWAYS_IN_CANCER","rank":555},{"set":"KEGG_PATHWAYS_IN_CANCER","rank":565},{"set":"KEGG_PATHWAYS_IN_CANCER","rank":575},{"set":"KEGG_PATHWAYS_IN_CANCER","rank":585},{"set":"KEGG_PATHWAYS_IN_CANCER","rank":595},{"set":"KEGG_PATHWAYS_IN_CANCER","rank":605},{"set":"KEGG_PATHWAYS_IN_CANCER","rank":615},{"set":"KEGG_PATHWAYS_IN_CANCER","rank":625},{"set":"KEGG_PATHWAYS_IN_CANCER","rank":635},{"set":"KEGG_PATHWAYS_IN_CANCER","rank":645},{"set":"KEGG_PATHWAYS_IN_CANCER","rank":655},{"set":"KEGG_PATHWAYS_IN_CANCER","rank":665},{"set":"KEGG_PATHWAYS_IN_CANCER","rank":680},{"set":"KEGG_PATHWAYS_IN_CANCER","rank":690},{"set":"KEGG_PATHWAYS_IN_CANCER","rank":715},{"set":"KEGG_PATHWAYS_IN_CANCER","rank":725},{"set":"KEGG_PATHWAYS_IN_CANCER","rank":735},{"set":"KEGG_PATHWAYS_IN_CANCER","rank":750},{"set":"KEGG_PATHWAYS_IN_CANCER","rank":760},{"set":"KEGG_PATHWAYS_IN_CANCER","rank":770},{"set":"KEGG_PATHWAYS_IN_CANCER","rank":780},{"set":"KEGG_PATHWAYS_IN_CANCER","rank":790},{"set":"KEGG_PATHWAYS_IN_CANCER","rank":880},{"set":"KEGG_PATHWAYS_IN_CANCER","rank":890},{"set":"KEGG_PATHWAYS_IN_CANCER","rank":905},{"set":"KEGG_PATHWAYS_IN_CANCER","rank":915},{"set":"KEGG_PATHWAYS_IN_CANCER","rank":945},{"set":"KEGG_PATHWAYS_IN_CANCER","rank":970},{"set":"KEGG_PATHWAYS_IN_CANCER","rank":990},{"set":"KEGG_PATHWAYS_IN_CANCER","rank":1000},{"set":"KEGG_PATHWAYS_IN_CANCER","rank":1010},{"set":"KEGG_PATHWAYS_IN_CANCER","rank":1020},{"set":"KEGG_PATHWAYS_IN_CANCER","rank":1030},{"set":"KEGG_PATHWAYS_IN_CANCER","rank":1045},{"set":"KEGG_PATHWAYS_IN_CANCER","rank":1050},{"set":"KEGG_PATHWAYS_IN_CANCER","rank":1060},{"set":"KEGG_PATHWAYS_IN_CANCER","rank":1070},{"set":"KEGG_PATHWAYS_IN_CANCER","rank":1110},{"set":"KEGG_PATHWAYS_IN_CANCER","rank":1125},{"set":"KEGG_PATHWAYS_IN_CANCER","rank":1175},{"set":"KEGG_PATHWAYS_IN_CANCER","rank":1185},{"set":"KEGG_PATHWAYS_IN_CANCER","rank":1195},{"set":"KEGG_PATHWAYS_IN_CANCER","rank":1205},{"set":"KEGG_PATHWAYS_IN_CANCER","rank":1225},{"set":"KEGG_PATHWAYS_IN_CANCER","rank":1230},{"set":"KEGG_PATHWAYS_IN_CANCER","rank":1235},{"set":"KEGG_PATHWAYS_IN_CANCER","rank":1245},{"set":"KEGG_PATHWAYS_IN_CANCER","rank":1255},{"set":"KEGG_PATHWAYS_IN_CANCER","rank":1280},{"set":"KEGG_PATHWAYS_IN_CANCER","rank":1310},{"set":"KEGG_PATHWAYS_IN_CANCER","rank":1320},{"set":"KEGG_PATHWAYS_IN_CANCER","rank":1330},{"set":"KEGG_PATHWAYS_IN_CANCER","rank":1340},{"set":"KEGG_PATHWAYS_IN_CANCER","rank":1350},{"set":"KEGG_PATHWAYS_IN_CANCER","rank":1365},{"set":"KEGG_PATHWAYS_IN_CANCER","rank":1375},{"set":"KEGG_PATHWAYS_IN_CANCER","rank":1385},{"set":"KEGG_PATHWAYS_IN_CANCER","rank":1395},{"set":"KEGG_PATHWAYS_IN_CANCER","rank":1400},{"set":"KEGG_PATHWAYS_IN_CANCER","rank":1405},{"set":"KEGG_PATHWAYS_IN_CANCER","rank":1430},{"set":"KEGG_PATHWAYS_IN_CANCER","rank":1450},{"set":"KEGG_PATHWAYS_IN_CANCER","rank":1475},{"set":"KEGG_PATHWAYS_IN_CANCER","rank":1500},{"set":"KEGG_PATHWAYS_IN_CANCER","rank":1525},{"set":"KEGG_PATHWAYS_IN_CANCER","rank":1535},{"set":"KEGG_PATHWAYS_IN_CANCER","rank":1545},{"set":"KEGG_PATHWAYS_IN_CANCER","rank":1555},{"set":"KEGG_PATHWAYS_IN_CANCER","rank":1565},{"set":"KEGG_PATHWAYS_IN_CANCER","rank":1575},{"set":"KEGG_PATHWAYS_IN_CANCER","rank":1585},{"set":"KEGG_PATHWAYS_IN_CANCER","rank":1595},{"set":"KEGG_PATHWAYS_IN_CANCER","rank":1605},{"set":"KEGG_PATHWAYS_IN_CANCER","rank":1615},{"set":"KEGG_PATHWAYS_IN_CANCER","rank":1625},{"set":"KEGG_PATHWAYS_IN_CANCER","rank":1690},{"set":"KEGG_PATHWAYS_IN_CANCER","rank":1700},{"set":"KEGG_PATHWAYS_IN_CANCER","rank":1710},{"set":"KEGG_PATHWAYS_IN_CANCER","rank":1725},{"set":"KEGG_PATHWAYS_IN_CANCER","rank":1735},{"set":"KEGG_PATHWAYS_IN_CANCER","rank":1750},{"set":"KEGG_PATHWAYS_IN_CANCER","rank":1760},{"set":"KEGG_PATHWAYS_IN_CANCER","rank":1770},{"set":"KEGG_PATHWAYS_IN_CANCER","rank":1815},{"set":"KEGG_PATHWAYS_IN_CANCER","rank":1825},{"set":"KEGG_PATHWAYS_IN_CANCER","rank":1835},{"set":"KEGG_PATHWAYS_IN_CANCER","rank":1845},{"set":"KEGG_PATHWAYS_IN_CANCER","rank":1855},{"set":"KEGG_PATHWAYS_IN_CANCER","rank":1865},{"set":"KEGG_PATHWAYS_IN_CANCER","rank":1875},{"set":"KEGG_PATHWAYS_IN_CANCER","rank":1885},{"set":"KEGG_PATHWAYS_IN_CANCER","rank":1900},{"set":"KEGG_PATHWAYS_IN_CANCER","rank":1965},{"set":"KEGG_PATHWAYS_IN_CANCER","rank":2000},{"set":"KEGG_PATHWAYS_IN_CANCER","rank":2010},{"set":"KEGG_PATHWAYS_IN_CANCER","rank":2020},{"set":"KEGG_PATHWAYS_IN_CANCER","rank":2030},{"set":"KEGG_PATHWAYS_IN_CANCER","rank":2040},{"set":"KEGG_PATHWAYS_IN_CANCER","rank":2050},{"set":"KEGG_PATHWAYS_IN_CANCER","rank":2060},{"set":"KEGG_PATHWAYS_IN_CANCER","rank":2075},{"set":"KEGG_PATHWAYS_IN_CANCER","rank":2090},{"set":"KEGG_PATHWAYS_IN_CANCER","rank":2105},{"set":"KEGG_PATHWAYS_IN_CANCER","rank":2112},
{"set":"KEGG_P53_SIGNALING_PATHWAY","rank":5},{"set":"KEGG_P53_SIGNALING_PATHWAY","rank":15},{"set":"KEGG_P53_SIGNALING_PATHWAY","rank":25},{"set":"KEGG_P53_SIGNALING_PATHWAY","rank":30},{"set":"KEGG_P53_SIGNALING_PATHWAY","rank":40},{"set":"KEGG_P53_SIGNALING_PATHWAY","rank":50},{"set":"KEGG_P53_SIGNALING_PATHWAY","rank":60},{"set":"KEGG_P53_SIGNALING_PATHWAY","rank":70},{"set":"KEGG_P53_SIGNALING_PATHWAY","rank":80},{"set":"KEGG_P53_SIGNALING_PATHWAY","rank":90},{"set":"KEGG_P53_SIGNALING_PATHWAY","rank":100},{"set":"KEGG_P53_SIGNALING_PATHWAY","rank":105},{"set":"KEGG_P53_SIGNALING_PATHWAY","rank":115},{"set":"KEGG_P53_SIGNALING_PATHWAY","rank":130},{"set":"KEGG_P53_SIGNALING_PATHWAY","rank":135},{"set":"KEGG_P53_SIGNALING_PATHWAY","rank":145},{"set":"KEGG_P53_SIGNALING_PATHWAY","rank":155},{"set":"KEGG_P53_SIGNALING_PATHWAY","rank":165},{"set":"KEGG_P53_SIGNALING_PATHWAY","rank":205},{"set":"KEGG_P53_SIGNALING_PATHWAY","rank":215},{"set":"KEGG_P53_SIGNALING_PATHWAY","rank":245},{"set":"KEGG_P53_SIGNALING_PATHWAY","rank":255},{"set":"KEGG_P53_SIGNALING_PATHWAY","rank":315},{"set":"KEGG_P53_SIGNALING_PATHWAY","rank":325},{"set":"KEGG_P53_SIGNALING_PATHWAY","rank":370},{"set":"KEGG_P53_SIGNALING_PATHWAY","rank":420},{"set":"KEGG_P53_SIGNALING_PATHWAY","rank":475},{"set":"KEGG_P53_SIGNALING_PATHWAY","rank":490},{"set":"KEGG_P53_SIGNALING_PATHWAY","rank":505},{"set":"KEGG_P53_SIGNALING_PATHWAY","rank":550},{"set":"KEGG_P53_SIGNALING_PATHWAY","rank":570},{"set":"KEGG_P53_SIGNALING_PATHWAY","rank":580},{"set":"KEGG_P53_SIGNALING_PATHWAY","rank":625},{"set":"KEGG_P53_SIGNALING_PATHWAY","rank":650},{"set":"KEGG_P53_SIGNALING_PATHWAY","rank":660},{"set":"KEGG_P53_SIGNALING_PATHWAY","rank":670},{"set":"KEGG_P53_SIGNALING_PATHWAY","rank":720},{"set":"KEGG_P53_SIGNALING_PATHWAY","rank":730},{"set":"KEGG_P53_SIGNALING_PATHWAY","rank":1045},{"set":"KEGG_P53_SIGNALING_PATHWAY","rank":1060},{"set":"KEGG_P53_SIGNALING_PATHWAY","rank":1215},{"set":"KEGG_P53_SIGNALING_PATHWAY","rank":1230},{"set":"KEGG_P53_SIGNALING_PATHWAY","rank":1265},{"set":"KEGG_P53_SIGNALING_PATHWAY","rank":1325},{"set":"KEGG_P53_SIGNALING_PATHWAY","rank":1350},{"set":"KEGG_P53_SIGNALING_PATHWAY","rank":1410},{"set":"KEGG_P53_SIGNALING_PATHWAY","rank":1435},{"set":"KEGG_P53_SIGNALING_PATHWAY","rank":1445},{"set":"KEGG_P53_SIGNALING_PATHWAY","rank":1625},{"set":"KEGG_P53_SIGNALING_PATHWAY","rank":1725},{"set":"KEGG_P53_SIGNALING_PATHWAY","rank":1740},{"set":"KEGG_P53_SIGNALING_PATHWAY","rank":1790},{"set":"KEGG_P53_SIGNALING_PATHWAY","rank":1850},{"set":"KEGG_P53_SIGNALING_PATHWAY","rank":1870},{"set":"KEGG_P53_SIGNALING_PATHWAY","rank":1895},{"set":"KEGG_P53_SIGNALING_PATHWAY","rank":1940},{"set":"KEGG_P53_SIGNALING_PATHWAY","rank":2000},{"set":"KEGG_P53_SIGNALING_PATHWAY","rank":2010},{"set":"KEGG_P53_SIGNALING_PATHWAY","rank":2095},{"set":"KEGG_P53_SIGNALING_PATHWAY","rank":2105},
{"set":"KEGG_NOTCH_SIGNALING_PATHWAY","rank":30},{"set":"KEGG_NOTCH_SIGNALING_PATHWAY","rank":40},{"set":"KEGG_NOTCH_SIGNALING_PATHWAY","rank":50},{"set":"KEGG_NOTCH_SIGNALING_PATHWAY","rank":60},{"set":"KEGG_NOTCH_SIGNALING_PATHWAY","rank":80},{"set":"KEGG_NOTCH_SIGNALING_PATHWAY","rank":85},{"set":"KEGG_NOTCH_SIGNALING_PATHWAY","rank":90},{"set":"KEGG_NOTCH_SIGNALING_PATHWAY","rank":95},{"set":"KEGG_NOTCH_SIGNALING_PATHWAY","rank":120},{"set":"KEGG_NOTCH_SIGNALING_PATHWAY","rank":145},{"set":"KEGG_NOTCH_SIGNALING_PATHWAY","rank":155},{"set":"KEGG_NOTCH_SIGNALING_PATHWAY","rank":170},{"set":"KEGG_NOTCH_SIGNALING_PATHWAY","rank":195},{"set":"KEGG_NOTCH_SIGNALING_PATHWAY","rank":210},{"set":"KEGG_NOTCH_SIGNALING_PATHWAY","rank":220},{"set":"KEGG_NOTCH_SIGNALING_PATHWAY","rank":235},{"set":"KEGG_NOTCH_SIGNALING_PATHWAY","rank":265},{"set":"KEGG_NOTCH_SIGNALING_PATHWAY","rank":270},{"set":"KEGG_NOTCH_SIGNALING_PATHWAY","rank":300},{"set":"KEGG_NOTCH_SIGNALING_PATHWAY","rank":335},{"set":"KEGG_NOTCH_SIGNALING_PATHWAY","rank":340},{"set":"KEGG_NOTCH_SIGNALING_PATHWAY","rank":370},{"set":"KEGG_NOTCH_SIGNALING_PATHWAY","rank":460},{"set":"KEGG_NOTCH_SIGNALING_PATHWAY","rank":470},{"set":"KEGG_NOTCH_SIGNALING_PATHWAY","rank":490},{"set":"KEGG_NOTCH_SIGNALING_PATHWAY","rank":580},{"set":"KEGG_NOTCH_SIGNALING_PATHWAY","rank":650},{"set":"KEGG_NOTCH_SIGNALING_PATHWAY","rank":730},{"set":"KEGG_NOTCH_SIGNALING_PATHWAY","rank":870},{"set":"KEGG_NOTCH_SIGNALING_PATHWAY","rank":880},{"set":"KEGG_NOTCH_SIGNALING_PATHWAY","rank":970},{"set":"KEGG_NOTCH_SIGNALING_PATHWAY","rank":1015},{"set":"KEGG_NOTCH_SIGNALING_PATHWAY","rank":1150},{"set":"KEGG_NOTCH_SIGNALING_PATHWAY","rank":1155},{"set":"KEGG_NOTCH_SIGNALING_PATHWAY","rank":1310},{"set":"KEGG_NOTCH_SIGNALING_PATHWAY","rank":1315},{"set":"KEGG_NOTCH_SIGNALING_PATHWAY","rank":1475},{"set":"KEGG_NOTCH_SIGNALING_PATHWAY","rank":1645},{"set":"KEGG_NOTCH_SIGNALING_PATHWAY","rank":1710},{"set":"KEGG_NOTCH_SIGNALING_PATHWAY","rank":1840},{"set":"KEGG_NOTCH_SIGNALING_PATHWAY","rank":2060},{"set":"KEGG_NOTCH_SIGNALING_PATHWAY","rank":2070},{"set":"KEGG_NOTCH_SIGNALING_PATHWAY","rank":2095},
{"set":"KEGG_GAP_JUNCTION","rank":5},{"set":"KEGG_GAP_JUNCTION","rank":10},{"set":"KEGG_GAP_JUNCTION","rank":20},{"set":"KEGG_GAP_JUNCTION","rank":25},{"set":"KEGG_GAP_JUNCTION","rank":30},{"set":"KEGG_GAP_JUNCTION","rank":40},{"set":"KEGG_GAP_JUNCTION","rank":45},{"set":"KEGG_GAP_JUNCTION","rank":50},{"set":"KEGG_GAP_JUNCTION","rank":55},{"set":"KEGG_GAP_JUNCTION","rank":60},{"set":"KEGG_GAP_JUNCTION","rank":65},{"set":"KEGG_GAP_JUNCTION","rank":80},{"set":"KEGG_GAP_JUNCTION","rank":110},{"set":"KEGG_GAP_JUNCTION","rank":115},{"set":"KEGG_GAP_JUNCTION","rank":120},{"set":"KEGG_GAP_JUNCTION","rank":130},{"set":"KEGG_GAP_JUNCTION","rank":145},{"set":"KEGG_GAP_JUNCTION","rank":150},{"set":"KEGG_GAP_JUNCTION","rank":165},{"set":"KEGG_GAP_JUNCTION","rank":170},{"set":"KEGG_GAP_JUNCTION","rank":175},{"set":"KEGG_GAP_JUNCTION","rank":180},{"set":"KEGG_GAP_JUNCTION","rank":185},{"set":"KEGG_GAP_JUNCTION","rank":190},{"set":"KEGG_GAP_JUNCTION","rank":205},{"set":"KEGG_GAP_JUNCTION","rank":210},{"set":"KEGG_GAP_JUNCTION","rank":235},{"set":"KEGG_GAP_JUNCTION","rank":265},{"set":"KEGG_GAP_JUNCTION","rank":270},{"set":"KEGG_GAP_JUNCTION","rank":280},{"set":"KEGG_GAP_JUNCTION","rank":285},{"set":"KEGG_GAP_JUNCTION","rank":290},{"set":"KEGG_GAP_JUNCTION","rank":300},{"set":"KEGG_GAP_JUNCTION","rank":310},{"set":"KEGG_GAP_JUNCTION","rank":345},{"set":"KEGG_GAP_JUNCTION","rank":355},{"set":"KEGG_GAP_JUNCTION","rank":370},{"set":"KEGG_GAP_JUNCTION","rank":380},{"set":"KEGG_GAP_JUNCTION","rank":420},{"set":"KEGG_GAP_JUNCTION","rank":430},{"set":"KEGG_GAP_JUNCTION","rank":460},{"set":"KEGG_GAP_JUNCTION","rank":560},{"set":"KEGG_GAP_JUNCTION","rank":595},{"set":"KEGG_GAP_JUNCTION","rank":640},{"set":"KEGG_GAP_JUNCTION","rank":720},{"set":"KEGG_GAP_JUNCTION","rank":735},{"set":"KEGG_GAP_JUNCTION","rank":750},{"set":"KEGG_GAP_JUNCTION","rank":770},{"set":"KEGG_GAP_JUNCTION","rank":880},{"set":"KEGG_GAP_JUNCTION","rank":890},{"set":"KEGG_GAP_JUNCTION","rank":915},{"set":"KEGG_GAP_JUNCTION","rank":920},{"set":"KEGG_GAP_JUNCTION","rank":970},{"set":"KEGG_GAP_JUNCTION","rank":1030},{"set":"KEGG_GAP_JUNCTION","rank":1040},{"set":"KEGG_GAP_JUNCTION","rank":1080},{"set":"KEGG_GAP_JUNCTION","rank":1100},{"set":"KEGG_GAP_JUNCTION","rank":1165},{"set":"KEGG_GAP_JUNCTION","rank":1175},{"set":"KEGG_GAP_JUNCTION","rank":1180},{"set":"KEGG_GAP_JUNCTION","rank":1195},{"set":"KEGG_GAP_JUNCTION","rank":1225},{"set":"KEGG_GAP_JUNCTION","rank":1230},{"set":"KEGG_GAP_JUNCTION","rank":1235},{"set":"KEGG_GAP_JUNCTION","rank":1260},{"set":"KEGG_GAP_JUNCTION","rank":1375},{"set":"KEGG_GAP_JUNCTION","rank":1385},{"set":"KEGG_GAP_JUNCTION","rank":1530},{"set":"KEGG_GAP_JUNCTION","rank":1535},{"set":"KEGG_GAP_JUNCTION","rank":1550},{"set":"KEGG_GAP_JUNCTION","rank":1610},{"set":"KEGG_GAP_JUNCTION","rank":1780},{"set":"KEGG_GAP_JUNCTION","rank":1790},{"set":"KEGG_GAP_JUNCTION","rank":1925},{"set":"KEGG_GAP_JUNCTION","rank":1935},{"set":"KEGG_GAP_JUNCTION","rank":1965},{"set":"KEGG_GAP_JUNCTION","rank":2020},{"set":"KEGG_GAP_JUNCTION","rank":2040},{"set":"KEGG_GAP_JUNCTION","rank":2045},{"set":"KEGG_GAP_JUNCTION","rank":2065},{"set":"KEGG_GAP_JUNCTION","rank":2070},
{"set":"KEGG_ECM_RECEPTOR_INTERACTION","rank":5},{"set":"KEGG_ECM_RECEPTOR_INTERACTION","rank":10},{"set":"KEGG_ECM_RECEPTOR_INTERACTION","rank":15},{"set":"KEGG_ECM_RECEPTOR_INTERACTION","rank":20},{"set":"KEGG_ECM_RECEPTOR_INTERACTION","rank":25},{"set":"KEGG_ECM_RECEPTOR_INTERACTION","rank":30},{"set":"KEGG_ECM_RECEPTOR_INTERACTION","rank":35},{"set":"KEGG_ECM_RECEPTOR_INTERACTION","rank":45},{"set":"KEGG_ECM_RECEPTOR_INTERACTION","rank":50},{"set":"KEGG_ECM_RECEPTOR_INTERACTION","rank":55},{"set":"KEGG_ECM_RECEPTOR_INTERACTION","rank":65},{"set":"KEGG_ECM_RECEPTOR_INTERACTION","rank":70},{"set":"KEGG_ECM_RECEPTOR_INTERACTION","rank":75},{"set":"KEGG_ECM_RECEPTOR_INTERACTION","rank":80},{"set":"KEGG_ECM_RECEPTOR_INTERACTION","rank":85},{"set":"KEGG_ECM_RECEPTOR_INTERACTION","rank":95},{"set":"KEGG_ECM_RECEPTOR_INTERACTION","rank":105},{"set":"KEGG_ECM_RECEPTOR_INTERACTION","rank":115},{"set":"KEGG_ECM_RECEPTOR_INTERACTION","rank":145},{"set":"KEGG_ECM_RECEPTOR_INTERACTION","rank":150},{"set":"KEGG_ECM_RECEPTOR_INTERACTION","rank":155},{"set":"KEGG_ECM_RECEPTOR_INTERACTION","rank":195},{"set":"KEGG_ECM_RECEPTOR_INTERACTION","rank":215},{"set":"KEGG_ECM_RECEPTOR_INTERACTION","rank":235},{"set":"KEGG_ECM_RECEPTOR_INTERACTION","rank":245},{"set":"KEGG_ECM_RECEPTOR_INTERACTION","rank":460},{"set":"KEGG_ECM_RECEPTOR_INTERACTION","rank":485},{"set":"KEGG_ECM_RECEPTOR_INTERACTION","rank":550},{"set":"KEGG_ECM_RECEPTOR_INTERACTION","rank":570},{"set":"KEGG_ECM_RECEPTOR_INTERACTION","rank":590},{"set":"KEGG_ECM_RECEPTOR_INTERACTION","rank":615},{"set":"KEGG_ECM_RECEPTOR_INTERACTION","rank":635},{"set":"KEGG_ECM_RECEPTOR_INTERACTION","rank":650},{"set":"KEGG_ECM_RECEPTOR_INTERACTION","rank":665},{"set":"KEGG_ECM_RECEPTOR_INTERACTION","rank":680},{"set":"KEGG_ECM_RECEPTOR_INTERACTION","rank":850},{"set":"KEGG_ECM_RECEPTOR_INTERACTION","rank":905},{"set":"KEGG_ECM_RECEPTOR_INTERACTION","rank":915},{"set":"KEGG_ECM_RECEPTOR_INTERACTION","rank":1055},{"set":"KEGG_ECM_RECEPTOR_INTERACTION","rank":1110},{"set":"KEGG_ECM_RECEPTOR_INTERACTION","rank":1155},{"set":"KEGG_ECM_RECEPTOR_INTERACTION","rank":1160},{"set":"KEGG_ECM_RECEPTOR_INTERACTION","rank":1165},{"set":"KEGG_ECM_RECEPTOR_INTERACTION","rank":1170},{"set":"KEGG_ECM_RECEPTOR_INTERACTION","rank":1190},{"set":"KEGG_ECM_RECEPTOR_INTERACTION","rank":1215},{"set":"KEGG_ECM_RECEPTOR_INTERACTION","rank":1285},{"set":"KEGG_ECM_RECEPTOR_INTERACTION","rank":1295},{"set":"KEGG_ECM_RECEPTOR_INTERACTION","rank":1330},{"set":"KEGG_ECM_RECEPTOR_INTERACTION","rank":1390},{"set":"KEGG_ECM_RECEPTOR_INTERACTION","rank":1395},{"set":"KEGG_ECM_RECEPTOR_INTERACTION","rank":1400},{"set":"KEGG_ECM_RECEPTOR_INTERACTION","rank":1465},{"set":"KEGG_ECM_RECEPTOR_INTERACTION","rank":1555},{"set":"KEGG_ECM_RECEPTOR_INTERACTION","rank":1705},{"set":"KEGG_ECM_RECEPTOR_INTERACTION","rank":1870},{"set":"KEGG_ECM_RECEPTOR_INTERACTION","rank":1875},{"set":"KEGG_ECM_RECEPTOR_INTERACTION","rank":1880},{"set":"KEGG_ECM_RECEPTOR_INTERACTION","rank":1930},{"set":"KEGG_ECM_RECEPTOR_INTERACTION","rank":1940},{"set":"KEGG_ECM_RECEPTOR_INTERACTION","rank":1945},{"set":"KEGG_ECM_RECEPTOR_INTERACTION","rank":1990},{"set":"KEGG_ECM_RECEPTOR_INTERACTION","rank":1995},{"set":"KEGG_ECM_RECEPTOR_INTERACTION","rank":2010},{"set":"KEGG_ECM_RECEPTOR_INTERACTION","rank":2030},{"set":"KEGG_ECM_RECEPTOR_INTERACTION","rank":2050},{"set":"KEGG_ECM_RECEPTOR_INTERACTION","rank":2060},{"set":"KEGG_ECM_RECEPTOR_INTERACTION","rank":2070},{"set":"KEGG_ECM_RECEPTOR_INTERACTION","rank":2090},{"set":"KEGG_ECM_RECEPTOR_INTERACTION","rank":2095},{"set":"KEGG_ECM_RECEPTOR_INTERACTION","rank":2100},
{"set":"KEGG_DNA_REPLICATION","rank":5},{"set":"KEGG_DNA_REPLICATION","rank":15},{"set":"KEGG_DNA_REPLICATION","rank":20},{"set":"KEGG_DNA_REPLICATION","rank":30},{"set":"KEGG_DNA_REPLICATION","rank":40},{"set":"KEGG_DNA_REPLICATION","rank":50},{"set":"KEGG_DNA_REPLICATION","rank":60},{"set":"KEGG_DNA_REPLICATION","rank":70},{"set":"KEGG_DNA_REPLICATION","rank":90},{"set":"KEGG_DNA_REPLICATION","rank":150},{"set":"KEGG_DNA_REPLICATION","rank":260},{"set":"KEGG_DNA_REPLICATION","rank":400},{"set":"KEGG_DNA_REPLICATION","rank":405},{"set":"KEGG_DNA_REPLICATION","rank":410},{"set":"KEGG_DNA_REPLICATION","rank":540},{"set":"KEGG_DNA_REPLICATION","rank":1200},{"set":"KEGG_DNA_REPLICATION","rank":1755},{"set":"KEGG_DNA_REPLICATION","rank":1810},{"set":"KEGG_DNA_REPLICATION","rank":2045},{"set":"KEGG_DNA_REPLICATION","rank":2095},
{"set":"KEGG_CELL_CYCLE","rank":5},{"set":"KEGG_CELL_CYCLE","rank":10},{"set":"KEGG_CELL_CYCLE","rank":15},{"set":"KEGG_CELL_CYCLE","rank":20},{"set":"KEGG_CELL_CYCLE","rank":25},{"set":"KEGG_CELL_CYCLE","rank":30},{"set":"KEGG_CELL_CYCLE","rank":35},{"set":"KEGG_CELL_CYCLE","rank":40},{"set":"KEGG_CELL_CYCLE","rank":45},{"set":"KEGG_CELL_CYCLE","rank":50},{"set":"KEGG_CELL_CYCLE","rank":55},{"set":"KEGG_CELL_CYCLE","rank":60},{"set":"KEGG_CELL_CYCLE","rank":65},{"set":"KEGG_CELL_CYCLE","rank":70},{"set":"KEGG_CELL_CYCLE","rank":75},{"set":"KEGG_CELL_CYCLE","rank":80},{"set":"KEGG_CELL_CYCLE","rank":85},{"set":"KEGG_CELL_CYCLE","rank":110},{"set":"KEGG_CELL_CYCLE","rank":115},{"set":"KEGG_CELL_CYCLE","rank":120},{"set":"KEGG_CELL_CYCLE","rank":125},{"set":"KEGG_CELL_CYCLE","rank":130},{"set":"KEGG_CELL_CYCLE","rank":135},{"set":"KEGG_CELL_CYCLE","rank":140},{"set":"KEGG_CELL_CYCLE","rank":145},{"set":"KEGG_CELL_CYCLE","rank":150},{"set":"KEGG_CELL_CYCLE","rank":155},{"set":"KEGG_CELL_CYCLE","rank":160},{"set":"KEGG_CELL_CYCLE","rank":170},{"set":"KEGG_CELL_CYCLE","rank":180},{"set":"KEGG_CELL_CYCLE","rank":190},{"set":"KEGG_CELL_CYCLE","rank":245},{"set":"KEGG_CELL_CYCLE","rank":260},{"set":"KEGG_CELL_CYCLE","rank":280},{"set":"KEGG_CELL_CYCLE","rank":290},{"set":"KEGG_CELL_CYCLE","rank":300},{"set":"KEGG_CELL_CYCLE","rank":310},{"set":"KEGG_CELL_CYCLE","rank":345},{"set":"KEGG_CELL_CYCLE","rank":400},{"set":"KEGG_CELL_CYCLE","rank":405},{"set":"KEGG_CELL_CYCLE","rank":495},{"set":"KEGG_CELL_CYCLE","rank":525},{"set":"KEGG_CELL_CYCLE","rank":550},{"set":"KEGG_CELL_CYCLE","rank":560},{"set":"KEGG_CELL_CYCLE","rank":570},{"set":"KEGG_CELL_CYCLE","rank":580},{"set":"KEGG_CELL_CYCLE","rank":590},{"set":"KEGG_CELL_CYCLE","rank":600},{"set":"KEGG_CELL_CYCLE","rank":620},{"set":"KEGG_CELL_CYCLE","rank":660},{"set":"KEGG_CELL_CYCLE","rank":725},{"set":"KEGG_CELL_CYCLE","rank":730},{"set":"KEGG_CELL_CYCLE","rank":735},{"set":"KEGG_CELL_CYCLE","rank":760},{"set":"KEGG_CELL_CYCLE","rank":790},{"set":"KEGG_CELL_CYCLE","rank":905},{"set":"KEGG_CELL_CYCLE","rank":915},{"set":"KEGG_CELL_CYCLE","rank":930},{"set":"KEGG_CELL_CYCLE","rank":1045},{"set":"KEGG_CELL_CYCLE","rank":1050},{"set":"KEGG_CELL_CYCLE","rank":1200},{"set":"KEGG_CELL_CYCLE","rank":1205},{"set":"KEGG_CELL_CYCLE","rank":1235},{"set":"KEGG_CELL_CYCLE","rank":1250},{"set":"KEGG_CELL_CYCLE","rank":1265},{"set":"KEGG_CELL_CYCLE","rank":1390},{"set":"KEGG_CELL_CYCLE","rank":1500},{"set":"KEGG_CELL_CYCLE","rank":1550},{"set":"KEGG_CELL_CYCLE","rank":1645},{"set":"KEGG_CELL_CYCLE","rank":1715},{"set":"KEGG_CELL_CYCLE","rank":1720},{"set":"KEGG_CELL_CYCLE","rank":1725},{"set":"KEGG_CELL_CYCLE","rank":1730},{"set":"KEGG_CELL_CYCLE","rank":1780},{"set":"KEGG_CELL_CYCLE","rank":1850},{"set":"KEGG_CELL_CYCLE","rank":1865},{"set":"KEGG_CELL_CYCLE","rank":1895},{"set":"KEGG_CELL_CYCLE","rank":1925},{"set":"KEGG_CELL_CYCLE","rank":1955},{"set":"KEGG_CELL_CYCLE","rank":1985},{"set":"KEGG_CELL_CYCLE","rank":2015},{"set":"KEGG_CELL_CYCLE","rank":2075},
{"set":"KEGG_BASE_EXCISION_REPAIR","rank":5},{"set":"KEGG_BASE_EXCISION_REPAIR","rank":10},{"set":"KEGG_BASE_EXCISION_REPAIR","rank":15},{"set":"KEGG_BASE_EXCISION_REPAIR","rank":20},{"set":"KEGG_BASE_EXCISION_REPAIR","rank":25},{"set":"KEGG_BASE_EXCISION_REPAIR","rank":30},{"set":"KEGG_BASE_EXCISION_REPAIR","rank":35},{"set":"KEGG_BASE_EXCISION_REPAIR","rank":40},{"set":"KEGG_BASE_EXCISION_REPAIR","rank":45},{"set":"KEGG_BASE_EXCISION_REPAIR","rank":50},{"set":"KEGG_BASE_EXCISION_REPAIR","rank":65},{"set":"KEGG_BASE_EXCISION_REPAIR","rank":70},{"set":"KEGG_BASE_EXCISION_REPAIR","rank":90},{"set":"KEGG_BASE_EXCISION_REPAIR","rank":95},{"set":"KEGG_BASE_EXCISION_REPAIR","rank":145},{"set":"KEGG_BASE_EXCISION_REPAIR","rank":250},{"set":"KEGG_BASE_EXCISION_REPAIR","rank":305},{"set":"KEGG_BASE_EXCISION_REPAIR","rank":400},{"set":"KEGG_BASE_EXCISION_REPAIR","rank":405},{"set":"KEGG_BASE_EXCISION_REPAIR","rank":690},{"set":"KEGG_BASE_EXCISION_REPAIR","rank":735},{"set":"KEGG_BASE_EXCISION_REPAIR","rank":760},{"set":"KEGG_BASE_EXCISION_REPAIR","rank":950},{"set":"KEGG_BASE_EXCISION_REPAIR","rank":960},{"set":"KEGG_BASE_EXCISION_REPAIR","rank":1130},{"set":"KEGG_BASE_EXCISION_REPAIR","rank":1200},{"set":"KEGG_BASE_EXCISION_REPAIR","rank":1220},{"set":"KEGG_BASE_EXCISION_REPAIR","rank":1375},{"set":"KEGG_BASE_EXCISION_REPAIR","rank":1515},{"set":"KEGG_BASE_EXCISION_REPAIR","rank":1960},{"set":"KEGG_BASE_EXCISION_REPAIR","rank":2085}
],
"zero":[{"baseline":0}]
},
"vconcat":[
{
"width":705,"height":468,
"layer":[
{"data":{"name":"curves"},
"mark":{"type":"line","strokeWidth":5,"strokeJoin":"round","strokeCap":"butt"},
"encoding":{
"x":{"field":"rank","type":"quantitative","scale":{"domain":[0,2115],"nice":false,"zero":false},"axis":null},
"y":{"field":"es","type":"quantitative","scale":{"domain":[-0.0968,0.821],"nice":false,"zero":false},
"axis":{"title":"Enrichment Score","values":[0,0.2,0.4,0.6,0.8],"format":".1f","grid":false,"domainColor":"#000000","domainWidth":2,"tickColor":"#333333","tickWidth":1.5,"tickSize":6,"labelFontSize":17,"labelColor":"#4d4d4d","labelPadding":3,"titleFontSize":19,"titleFontWeight":"normal","titleColor":"#000000","titlePadding":4}},
"color":{"field":"set","type":"nominal",
"scale":{"domain":["KEGG_BASE_EXCISION_REPAIR","KEGG_CELL_CYCLE","KEGG_DNA_REPLICATION","KEGG_ECM_RECEPTOR_INTERACTION","KEGG_GAP_JUNCTION","KEGG_NOTCH_SIGNALING_PATHWAY","KEGG_P53_SIGNALING_PATHWAY","KEGG_PATHWAYS_IN_CANCER","KEGG_PYRIMIDINE_METABOLISM","KEGG_SMALL_CELL_LUNG_CANCER"],
"range":["#6B4C9A","#E6457D","#D6CE4B","#6B4D65","#71C25B","#213D72","#4BC8D8","#7D1229","#5A8EC2","#3E183E"]},
"legend":{"title":null,"orient":"none","legendX":738,"legendY":112,"symbolType":"stroke","symbolStrokeWidth":5,"symbolSize":400,"labelFontSize":16,"labelColor":"#000000","labelOffset":10,"rowPadding":3,"labelLimit":400}}
}},
{"data":{"name":"zero"},
"mark":{"type":"rule","color":"#000000","strokeWidth":1.5},
"encoding":{"y":{"field":"baseline","type":"quantitative"}}}
]
},
{
"width":705,"height":96,
"data":{"name":"hits"},
"mark":{"type":"tick","thickness":2,"opacity":0.65,"size":8},
"encoding":{
"x":{"field":"rank","type":"quantitative","scale":{"domain":[0,2115],"nice":false,"zero":false},
"axis":{"title":"high risk<---------------->low risk","labels":false,"ticks":false,"grid":false,"domainColor":"#000000","domainWidth":2,"titleFontSize":19,"titleFontWeight":"normal","titleColor":"#000000","titlePadding":3}},
"y":{"field":"set","type":"nominal","axis":null,
"scale":{"domain":["KEGG_SMALL_CELL_LUNG_CANCER","KEGG_PYRIMIDINE_METABOLISM","KEGG_PATHWAYS_IN_CANCER","KEGG_P53_SIGNALING_PATHWAY","KEGG_NOTCH_SIGNALING_PATHWAY","KEGG_GAP_JUNCTION","KEGG_ECM_RECEPTOR_INTERACTION","KEGG_DNA_REPLICATION","KEGG_CELL_CYCLE","KEGG_BASE_EXCISION_REPAIR"],"paddingInner":0,"paddingOuter":0}},
"color":{"field":"set","type":"nominal","legend":null}
}
}
],
"resolve":{"scale":{"color":"shared","x":"independent","y":"independent"},"legend":{"color":"independent"}}
}
